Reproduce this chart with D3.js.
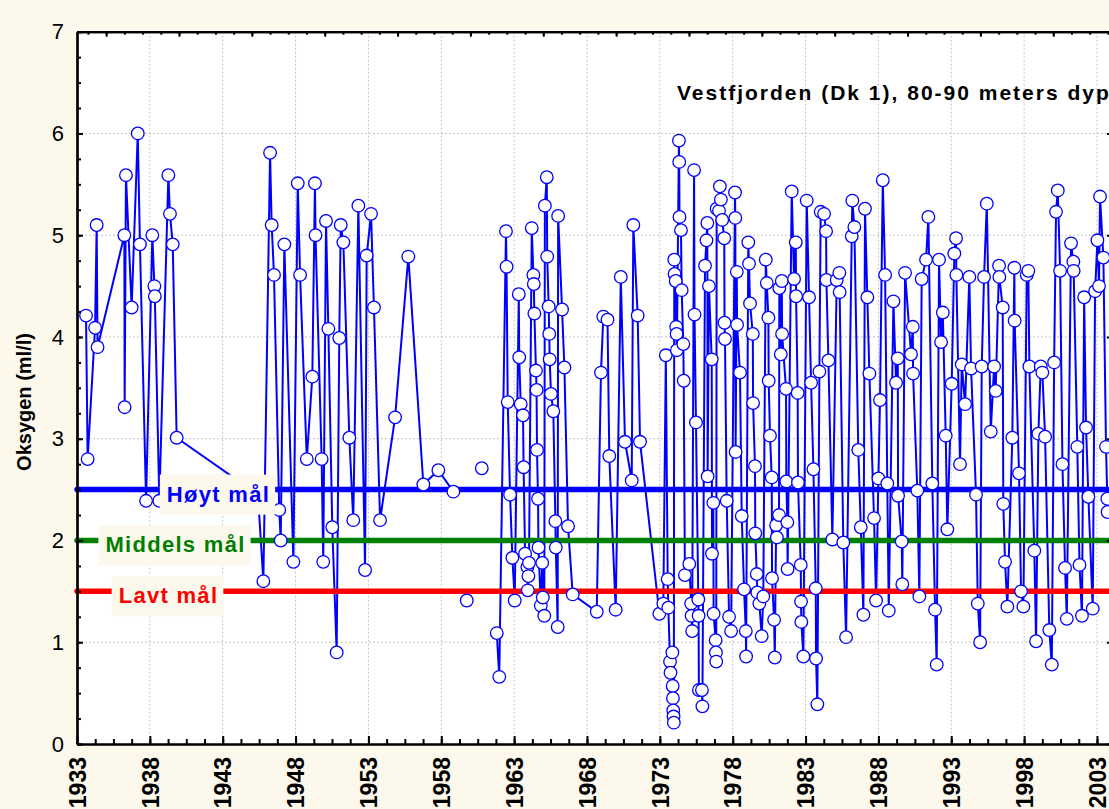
<!DOCTYPE html>
<html>
<head>
<meta charset="utf-8">
<script src="https://cdn.jsdelivr.net/npm/d3@7"></script>
<style>
  body { margin: 0; background: #fdf8ec; }
  svg { display: block; font-family: Arial, "Liberation Sans", sans-serif; }
</style>
</head>
<body>
<div id="chart"></div>
<script>
// sampling time (decimal year) and oxygen (ml/l); null = break in the line
var sampleYear = [
  1933.62,1933.73,1934.24,1934.35,1934.41,1936.25,1936.27,1936.36,1936.75,1937.17,1937.32,1937.74,
  1938.17,1938.31,1938.34,1938.65,1939.27,1939.38,1939.57,1939.84,1945.42,1945.79,1946.25,1946.36,
  1946.52,1946.88,1946.98,1947.23,1947.85,1948.15,1948.31,1948.77,1949.15,1949.33,1949.37,1949.79,
  1949.90,1950.09,1950.25,1950.52,1950.82,1951.00,1951.10,1951.28,1951.69,1951.96,1952.31,1952.77,
  1952.88,1953.18,1953.38,1953.80,1954.83,1955.74,1956.77,1957.80,1958.83,1959.30,1959.75,1960.30,
  1960.78,1961.30,
  1961.81,1961.98,1962.44,1962.48,1962.56,1962.72,1962.88,1963.04,1963.32,1963.35,1963.45,1963.61,
  1963.65,1963.75,1963.91,1963.94,1963.98,1964.02,1964.21,1964.32,1964.35,1964.39,1964.50,1964.54,
  1964.57,1964.64,1964.67,1964.83,1964.93,1964.97,1965.07,1965.11,1965.24,1965.27,1965.37,1965.41,
  1965.44,1965.53,1965.69,1965.83,1965.86,1965.99,1966.02,1966.29,1966.45,1966.70,1967.02,1968.67,
  1968.96,1969.12,1969.41,1969.53,1969.97,1970.32,1970.61,1971.07,1971.18,1971.48,1971.64,1972.97,
  1973.24,1973.41,1973.54,1973.58,1973.70,1973.73,1973.86,1973.88,1973.90,1973.92,1973.94,1973.96,
  1973.99,1974.01,1974.09,1974.12,1974.15,1974.17,1974.31,1974.33,1974.35,1974.45,1974.50,1974.61,
  1974.64,1974.72,1975.02,1975.15,1975.18,1975.22,1975.35,1975.38,1975.48,1975.64,1975.66,1975.68,
  1975.89,1975.92,1976.10,1976.20,1976.26,1976.28,1976.37,1976.56,1976.58,1976.67,1976.69,1976.83,
  1976.85,1976.87,1976.90,1977.06,1977.12,1977.19,1977.28,1977.42,1977.44,1977.47,1977.59,1977.75,
  1977.89,1978.16,1978.18,1978.20,1978.28,1978.30,1978.50,1978.62,1978.78,1978.90,1978.92,1979.07,
  1979.12,1979.19,1979.38,1979.40,1979.53,1979.55,1979.65,1979.69,1979.83,1979.99,1980.10,1980.27,
  1980.34,1980.45,1980.47,1980.56,1980.68,1980.70,1980.84,1980.89,1980.98,1981.03,1981.18,1981.20,
  1981.30,1981.37,1981.39,1981.66,1981.68,1981.75,1981.77,1982.05,1982.21,1982.33,1982.35,1982.46,
  1982.48,1982.67,1982.69,1982.71,1982.85,1983.08,1983.24,1983.38,1983.54,1983.70,1983.72,1983.81,
  1983.95,1984.04,1984.27,1984.41,1984.43,1984.57,1984.84,1985.14,1985.32,1985.34,1985.59,1985.78,
  1986.17,1986.21,1986.35,1986.62,1986.79,1986.97,1987.08,1987.24,1987.38,1987.70,1987.84,1988.00,
  1988.11,1988.30,1988.46,1988.61,1988.71,1989.03,1989.21,1989.33,1989.35,1989.60,1989.64,1989.83,
  1990.24,1990.36,1990.38,1990.67,1990.81,1990.97,1991.27,1991.43,1991.70,1991.89,1992.00,1992.16,
  1992.30,1992.42,1992.62,1992.73,1993.03,1993.21,1993.33,1993.35,1993.60,1993.72,1993.95,1994.24,
  1994.36,1994.70,1994.82,1994.98,1995.09,1995.25,1995.44,1995.71,1995.94,1996.05,1996.28,1996.30,
  1996.53,1996.57,1996.69,1996.85,1997.19,1997.33,1997.35,1997.65,1997.79,1997.95,1998.18,1998.29,
  1998.36,1998.70,1998.82,1998.98,1999.14,1999.25,1999.44,1999.73,1999.90,2000.06,2000.19,2000.31,
  2000.47,2000.63,2000.81,2000.93,2001.22,2001.38,2001.40,2001.65,2001.80,2001.97,2002.12,2002.25,
  2002.41,2002.71,2002.87,2003.03,2003.14,2003.21,2003.44,2003.62,2003.71,2003.73
];
var oxygen = [
  4.21,2.80,4.09,5.10,3.90,5.00,3.31,5.59,4.29,6.00,4.91,2.39,
  5.00,4.50,4.40,2.39,5.59,5.21,4.91,3.01,2.45,1.60,5.81,5.10,
  4.61,2.30,2.00,4.91,1.79,5.51,4.61,2.80,3.61,5.51,5.00,2.80,
  1.79,5.14,4.08,2.13,0.90,3.99,5.10,4.93,3.01,2.20,5.29,1.71,
  4.80,5.21,4.29,2.20,3.21,4.79,2.55,2.69,2.48,null,1.41,null,
  2.71,null,
  1.09,0.66,5.04,4.69,3.36,2.45,1.83,1.41,4.42,3.80,3.34,3.23,
  2.72,1.87,1.74,1.51,1.65,1.78,5.07,4.61,4.52,4.23,3.67,3.48,
  2.89,2.41,1.93,1.36,1.78,1.44,1.26,5.29,5.57,4.79,4.30,4.03,
  3.78,3.44,3.27,2.19,1.93,1.15,5.19,4.27,3.70,2.14,1.47,1.30,
  3.65,4.20,4.17,2.83,1.32,4.59,2.97,2.59,5.10,4.21,2.97,1.28,
  1.38,3.82,1.62,1.34,0.81,0.70,0.90,0.57,0.45,0.33,0.27,0.21,
  4.76,4.62,4.55,4.10,4.03,3.87,5.93,5.72,5.18,5.05,4.46,3.93,
  3.57,1.66,1.77,1.38,1.26,1.11,5.64,4.22,3.16,1.42,1.26,0.53,
  0.53,0.37,4.70,4.95,5.12,2.63,4.50,3.78,1.87,2.37,1.28,1.02,
  0.90,0.81,5.26,5.24,5.48,5.35,5.15,4.97,4.14,3.98,2.39,1.25,
  1.11,5.42,5.17,2.87,4.64,4.12,3.65,2.24,1.52,1.11,0.86,4.93,
  4.72,4.33,4.03,3.35,2.73,2.07,1.67,1.49,1.38,1.06,1.45,4.76,
  4.53,4.19,3.57,3.03,2.62,1.63,1.22,0.85,2.15,2.03,2.25,4.48,
  3.83,4.55,4.03,3.49,2.58,2.18,1.72,5.43,4.57,4.93,4.40,3.45,
  2.57,1.76,1.40,1.20,0.86,5.34,4.39,3.55,2.70,1.53,0.84,0.39,
  3.66,5.23,5.21,5.04,4.56,3.77,2.01,4.56,4.63,4.44,1.98,1.05,
  4.99,5.34,5.08,2.89,2.13,1.27,5.26,4.39,3.64,2.22,1.41,2.61,
  3.38,5.54,4.61,2.56,1.31,4.35,3.55,3.79,2.44,1.99,1.57,4.63,
  3.83,4.10,3.64,2.49,1.45,4.57,4.76,5.18,2.56,1.32,0.78,4.76,
  3.95,4.24,3.03,2.11,3.54,4.82,4.97,4.61,2.75,3.73,3.34,4.59,
  3.69,2.45,1.38,1.00,3.71,4.59,5.31,3.07,3.71,3.47,4.70,4.59,
  4.29,2.36,1.79,1.35,3.01,4.68,4.16,2.66,1.50,1.35,4.61,4.65,
  3.71,1.90,1.01,3.05,3.71,3.65,3.02,1.12,0.78,3.75,5.23,5.44,
  4.65,2.75,1.73,1.23,4.92,4.74,4.65,2.92,1.76,1.26,4.39,3.11,
  2.43,1.33,4.45,4.95,4.50,5.38,4.78,2.92,2.41,2.28
];

var targetLevels = [2.5, 2.0, 1.5];
var targetNames = ["Høyt mål", "Middels mål", "Lavt mål"];
var yTicks = [0, 1, 2, 3, 4, 5, 6, 7];
var xTicks = d3.range(1933, 2004, 5);
var title = "Vestfjorden (Dk 1), 80-90 meters dyp";
var yTitle = "Oksygen (ml/l)";

var width = 1109, height = 809;
var plotL = 77, plotR = 1113, plotT = 31.7, plotB = 744;
var targetColors = ["#0000ff", "#008000", "#ff0000"];
var labelCenters = [218.5, 175.5, 168.5];
var cream = "#fdf8ec";

var data = sampleYear.map(function(yr, i){ return {year: yr, val: oxygen[i]}; });

var x = d3.scaleLinear().domain([1933, 2004.1]).range([plotL, plotR]);
var y = d3.scaleLinear().domain([0, 7]).range([plotB, plotT]);

var svg = d3.select("#chart").append("svg")
  .attr("width", width).attr("height", height);

svg.append("rect").attr("width", width).attr("height", height).attr("fill", cream);
svg.append("rect")
  .attr("x", plotL).attr("y", plotT)
  .attr("width", plotR - plotL).attr("height", plotB - plotT)
  .attr("fill", "#fff");

// grid
var grid = svg.append("g").attr("stroke", "#c4c4c4").attr("stroke-width", 1)
  .attr("stroke-dasharray", "2,2");
grid.selectAll(".vg").data(xTicks.slice(1)).enter().append("line")
  .attr("x1", function(d){ return x(d); }).attr("x2", function(d){ return x(d); })
  .attr("y1", plotT).attr("y2", plotB);
grid.selectAll(".hg").data(yTicks.slice(1, -1)).enter().append("line")
  .attr("x1", plotL).attr("x2", plotR)
  .attr("y1", function(d){ return y(d); }).attr("y2", function(d){ return y(d); });

// series line
var line = d3.line()
  .defined(function(d){ return d.val !== null; })
  .x(function(d){ return x(d.year); })
  .y(function(d){ return y(d.val); });

svg.append("path").datum(data)
  .attr("d", line)
  .attr("fill", "none")
  .attr("stroke", "#0000ff")
  .attr("stroke-width", 2)
  .attr("stroke-linejoin", "round");

// target lines
svg.selectAll(".target").data(targetLevels).enter().append("line")
  .attr("x1", plotL).attr("x2", width + 10)
  .attr("y1", function(d){ return y(d); }).attr("y2", function(d){ return y(d); })
  .attr("stroke", function(d, i){ return targetColors[i]; })
  .attr("stroke-width", 5.5)
  .attr("stroke-linecap", "round");

// points
svg.selectAll(".pt").data(data.filter(function(d){ return d.val !== null; }))
  .enter().append("circle")
  .attr("cx", function(d){ return x(d.year); })
  .attr("cy", function(d){ return y(d.val); })
  .attr("r", 6.3)
  .attr("fill", "#fff")
  .attr("stroke", "#0000ff")
  .attr("stroke-width", 1.3);

// axes
function styleAxis(g){
  g.select(".domain").attr("stroke", "#000").attr("stroke-width", 2.2);
  g.selectAll(".tick line").attr("stroke", "#000").attr("stroke-width", 2);
}

svg.append("g").attr("transform", "translate(0," + plotB + ")")
  .call(d3.axisBottom(x).tickValues(d3.range(1933, 2004.2, 1.25)).tickSize(-5).tickSizeOuter(0).tickFormat(""))
  .call(styleAxis);
var xAxis = svg.append("g").attr("transform", "translate(0," + plotB + ")")
  .call(d3.axisBottom(x).tickValues(xTicks).tickSize(-8).tickSizeOuter(0).tickFormat(d3.format("d")))
  .call(styleAxis);
xAxis.selectAll(".tick text")
  .attr("transform", "rotate(-90)")
  .attr("text-anchor", "end")
  .attr("x", -13).attr("y", 0).attr("dy", "0.36em")
  .attr("fill", "#000")
  .style("font-size", "23px").style("font-weight", "bold");

svg.append("g").attr("transform", "translate(0," + plotT + ")")
  .call(d3.axisTop(x).tickValues(d3.range(1933.75, 2004.2, 1.25)).tickSize(-3).tickSizeOuter(0).tickFormat(""))
  .call(styleAxis);
svg.append("g").attr("transform", "translate(0," + plotT + ")")
  .call(d3.axisTop(x).tickValues(d3.range(1935, 2004.2, 5)).tickSize(-5).tickSizeOuter(0).tickFormat(""))
  .call(styleAxis);

svg.append("g").attr("transform", "translate(" + plotL + ",0)")
  .call(d3.axisLeft(y).tickValues(d3.range(0, 7.01, 0.25)).tickSize(-4).tickSizeOuter(0).tickFormat(""))
  .call(styleAxis);
var yAxis = svg.append("g").attr("transform", "translate(" + plotL + ",0)")
  .call(d3.axisLeft(y).tickValues(yTicks).tickSize(-6).tickSizeOuter(0).tickPadding(13).tickFormat(d3.format("d")))
  .call(styleAxis);
yAxis.selectAll(".tick text").attr("fill", "#000").style("font-size", "22px");

svg.append("g").attr("transform", "translate(" + plotR + ",0)")
  .call(d3.axisRight(y).tickValues(yTicks).tickSize(-6).tickSizeOuter(0).tickFormat(""))
  .call(styleAxis);

// target labels
targetLevels.forEach(function(lv, i){
  var g = svg.append("g");
  var t = g.append("text")
    .attr("x", labelCenters[i])
    .attr("y", y(lv) + 12)
    .attr("text-anchor", "middle")
    .attr("fill", targetColors[i])
    .style("font-size", "22px").style("font-weight", "bold")
    .style("letter-spacing", "1.3px")
    .text(targetNames[i]);
  var bb = t.node().getBBox();
  g.insert("rect", "text")
    .attr("x", bb.x - 7).attr("y", y(lv) - 15)
    .attr("width", bb.width + 12).attr("height", 40)
    .attr("fill", cream);
});

// titles
svg.append("text")
  .attr("x", 677).attr("y", 100)
  .style("font-size", "21px").style("font-weight", "bold")
  .style("letter-spacing", "2px")
  .text(title);

svg.append("text")
  .attr("transform", "translate(31,402) rotate(-90)")
  .attr("text-anchor", "middle")
  .style("font-size", "20px").style("font-weight", "bold")
  .text(yTitle);
</script>
</body>
</html>
